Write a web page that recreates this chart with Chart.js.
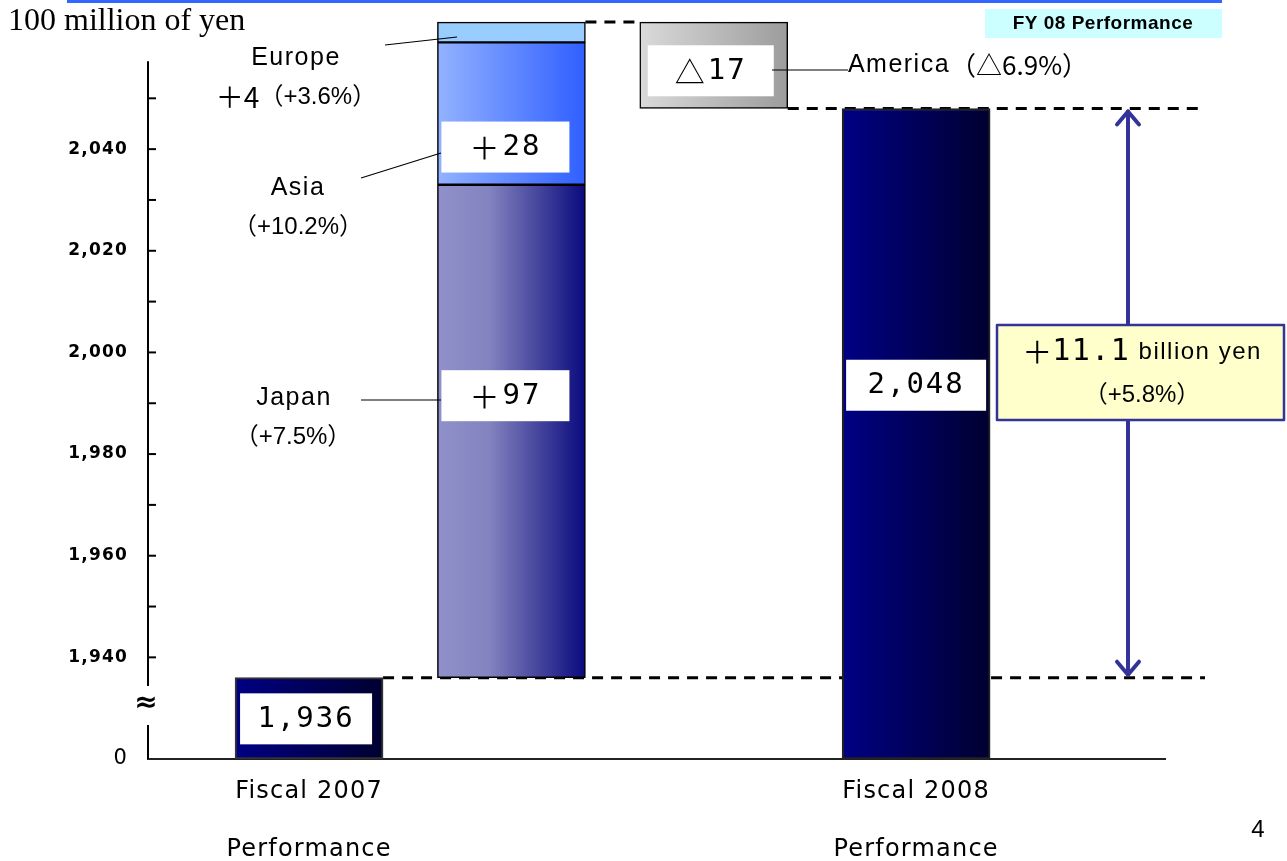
<!DOCTYPE html>
<html>
<head>
<meta charset="utf-8">
<script src="https://cdn.jsdelivr.net/npm/chart.js@4.4.1/dist/chart.umd.min.js"></script>
<style>
  html, body { margin: 0; padding: 0; background: #fff; }
  #wrap { width: 1287px; height: 861px; }
</style>
</head>
<body>
<div id="wrap"><canvas id="sales-chart" width="1287" height="861"></canvas></div>
<script>
// net sales, in 100 million of yen
const base2007 = 1936;
const result2008 = 2048;
const regions = ['Japan', 'Asia', 'Europe', 'America'];
const regionChange = [97, 28, 4, -17];
const regionPct = [7.5, 10.2, 3.6, -6.9];
const regionColumn = [1, 1, 1, 2];
const totalChangeBillion = 11.1;
const totalChangePct = 5.8;

const categoryLabels = [['Fiscal 2007', 'Performance'], null, null, ['Fiscal 2008', 'Performance']];

// the axis is broken: everything below 1,940 is squeezed, its bottom reads 0
const axisBreakValue = 1920;
const yTicks = [1940, 1950, 1960, 1970, 1980, 1990, 2000, 2010, 2020, 2030, 2040, 2050];
const yTickLabels = ['1,940', '', '1,960', '', '1,980', '', '2,000', '', '2,020', '', '2,040', ''];

const barWidth = 148;
const labelFont = '"Liberation Sans", "Noto Sans CJK JP", sans-serif';
const boxFont = '"DejaVu Sans Mono", "Noto Sans CJK JP", monospace';
const cjkFont = '"Noto Sans CJK JP", sans-serif';

// stacked steps of the waterfall
let running = base2007;
const steps = regionChange.map(v => {
    const seg = [running, running + v];
    running += v;
    return seg;
});

function signed(v) {
    return v >= 0 ? '+' + v : '△' + Math.abs(v);
}

// horizontal gradient across a bar
function barFill(stops) {
    return (ctx) => {
        const chart = ctx.chart;
        if (!chart.chartArea || ctx.type !== 'data') return stops[0][1];
        const cx = chart.scales.x.getPixelForValue(ctx.raw.x);
        const g = chart.ctx.createLinearGradient(cx - barWidth / 2, 0, cx + barWidth / 2, 0);
        stops.forEach(s => g.addColorStop(s[0], s[1]));
        return g;
    };
}

const navy = [[0, '#000084'], [1, '#000030']];
const regionFills = [
    [[0, '#9090ca'], [0.35, '#8383bf'], [1, '#0a0a7e']],
    [[0, '#93b2ff'], [1, '#2f5fff']],
    [[0, '#99ccff'], [1, '#99ccff']],
    [[0, '#dadada'], [1, '#9c9c9c']]
];

const datasets = [
    {
        label: 'Fiscal 2007',
        data: [{ x: 0, y: [axisBreakValue, base2007] }],
        backgroundColor: barFill(navy),
        borderColor: '#333',
        borderWidth: 2
    },
    ...regions.map((name, i) => ({
        label: name,
        data: [{ x: regionColumn[i], y: steps[i] }],
        backgroundColor: barFill(regionFills[i]),
        borderColor: '#000',
        borderWidth: 1.5
    })),
    {
        label: 'Fiscal 2008',
        data: [{ x: 3, y: [axisBreakValue, result2008] }],
        backgroundColor: barFill(navy),
        borderColor: '#222',
        borderWidth: 2
    }
];
datasets.forEach(d => {
    d.grouped = false;
    d.barThickness = barWidth;
    d.borderSkipped = false;
    d.clip = false;
});

// white value boxes inside the bars (dataset order)
const boxSigns = [null, ...regionChange.map(v => v >= 0 ? '＋' : '△'), null];
const boxTexts = [base2007.toLocaleString('en-US'), ...regionChange.map(v => String(Math.abs(v))), result2008.toLocaleString('en-US')];
const boxShift = [0, -36, 33, null, 5, -49];
const boxLeft = [5, 4, 4, 0, 8, 4];
const boxWidth = [132, 128, 128, 0, 126, 140];

function textAt(ctx, text, x, y, font, align, spacing) {
    ctx.font = font;
    ctx.letterSpacing = (spacing || 0) + 'px';
    ctx.textAlign = align || 'center';
    ctx.textBaseline = 'middle';
    ctx.fillText(text, x, y);
    ctx.letterSpacing = '0px';
}

function widthOf(ctx, text, font, spacing) {
    ctx.font = font;
    ctx.letterSpacing = (spacing || 0) + 'px';
    const w = ctx.measureText(text).width;
    ctx.letterSpacing = '0px';
    return w;
}

// draws a row of [text, font, spacing] parts centred on x
function partsAt(ctx, parts, x, y) {
    const widths = parts.map(p => widthOf(ctx, p[0], p[1], p[2]));
    let left = x - widths.reduce((a, b) => a + b, 0) / 2;
    parts.forEach((p, i) => {
        textAt(ctx, p[0], left, y, p[1], 'left', p[2]);
        left += widths[i];
    });
}

function line(ctx, x1, y1, x2, y2) {
    ctx.beginPath();
    ctx.moveTo(x1, y1);
    ctx.lineTo(x2, y2);
    ctx.stroke();
}

const slideDecor = {
    id: 'slideDecor',
    beforeDraw(chart) {
        // wider tracking for the axis labels, like the slide font
        chart.ctx.letterSpacing = '1.2px';
    },
    beforeDatasetsDraw(chart) {
        const { ctx, chartArea, scales: { y } } = chart;
        ctx.letterSpacing = '0px';
        const bar = i => chart.getDatasetMeta(i).data[0];
        const right = chartArea.right + 40;
        ctx.save();
        // dashed connectors
        ctx.strokeStyle = '#000';
        ctx.lineWidth = 3;
        ctx.setLineDash([11, 8]);
        line(ctx, bar(0).x + barWidth / 2, y.getPixelForValue(base2007), right, y.getPixelForValue(base2007));
        line(ctx, bar(3).x + barWidth / 2, y.getPixelForValue(steps[2][1]), bar(4).x - barWidth / 2, y.getPixelForValue(steps[2][1]));
        line(ctx, bar(4).x + barWidth / 2, y.getPixelForValue(result2008), right, y.getPixelForValue(result2008));
        ctx.setLineDash([]);

        // y axis with a break near the bottom
        const x0 = chartArea.left;
        const bottom = y.getPixelForValue(axisBreakValue);
        ctx.lineWidth = 2;
        ctx.strokeStyle = '#000';
        line(ctx, x0, y.getPixelForValue(yTicks[yTicks.length - 1]) - 37, x0, bottom - 73);
        line(ctx, x0, bottom - 34, x0, bottom);
        yTicks.forEach(v => line(ctx, x0, y.getPixelForValue(v), x0 + 8, y.getPixelForValue(v)));
        ctx.fillStyle = '#000';
        textAt(ctx, '≈', x0 - 2, bottom - 55, 'bold 28px "DejaVu Sans"');
        ctx.restore();
    },
    afterDatasetsDraw(chart) {
        const { ctx, scales: { y } } = chart;
        const bar = i => chart.getDatasetMeta(i).data[0];
        ctx.save();

        // value boxes
        boxTexts.forEach((t, i) => {
            if (boxShift[i] === null) return;
            const el = bar(i);
            const cy = (el.y + el.base) / 2 + boxShift[i];
            const left = el.x - barWidth / 2 + boxLeft[i];
            ctx.fillStyle = '#fff';
            ctx.fillRect(left, cy - 25, boxWidth[i], 51);
            ctx.fillStyle = '#000';
            const parts = [];
            if (boxSigns[i]) parts.push([boxSigns[i], '30px ' + cjkFont, 3]);
            parts.push([t, '29px ' + boxFont, 2]);
            partsAt(ctx, parts, left + boxWidth[i] / 2, cy + 1);
        });

        // region callouts
        ctx.strokeStyle = '#000';
        ctx.lineWidth = 1.2;
        ctx.fillStyle = '#000';
        const main = '25px ' + labelFont;
        const sub = '24px ' + labelFont;
        const pct = i => '（' + signed(regionPct[i]) + '%）';
        textAt(ctx, regions[0], 294, 398, main, 'center', 1.5);
        textAt(ctx, pct(0), 293, 437, sub);
        line(ctx, 361, 400, 441, 400);
        textAt(ctx, regions[1], 298, 188, main, 'center', 1.5);
        textAt(ctx, pct(1), 298, 227, sub);
        line(ctx, 361, 178, 441, 153);
        textAt(ctx, regions[2], 296, 58, main, 'center', 1.5);
        partsAt(ctx, [['＋' + regionChange[2], '28px ' + cjkFont, 0], [pct(2), sub, 0]], 296, 97);
        line(ctx, 385, 45, 457, 37);
        partsAt(ctx, [[regions[3], main, 1.5], [pct(3), '26px ' + cjkFont, 0]], 968, 65);
        line(ctx, 772, 70, 848, 70);

        // double arrow for the total change
        const ax = 1128;
        const yTop = y.getPixelForValue(result2008) + 3;
        const yBot = y.getPixelForValue(base2007) - 3;
        ctx.strokeStyle = '#333399';
        ctx.lineWidth = 4;
        ctx.lineCap = 'round';
        ctx.lineJoin = 'round';
        line(ctx, ax, yTop, ax, yBot);
        ctx.beginPath();
        ctx.moveTo(ax - 11, yTop + 13); ctx.lineTo(ax, yTop); ctx.lineTo(ax + 11, yTop + 13);
        ctx.moveTo(ax - 11, yBot - 13); ctx.lineTo(ax, yBot); ctx.lineTo(ax + 11, yBot - 13);
        ctx.stroke();

        // total box
        ctx.fillStyle = '#ffffcc';
        ctx.fillRect(997, 325, 287, 95);
        ctx.lineWidth = 2.5;
        ctx.lineCap = 'butt';
        ctx.strokeRect(997, 325, 287, 95);
        ctx.fillStyle = '#000';
        partsAt(ctx, [
            ['＋', '30px ' + cjkFont, 0],
            [String(totalChangeBillion), '30px ' + boxFont, 1.5],
            [' billion yen', '24px ' + labelFont, 1.5]
        ], 1142, 352);
        textAt(ctx, '（+' + totalChangePct + '%）', 1142, 395, sub);

        // slide header and page number
        ctx.fillStyle = '#3366ff';
        ctx.fillRect(67, 0, 1155, 3);
        ctx.fillStyle = '#ccffff';
        ctx.fillRect(985, 9, 237, 29);
        ctx.fillStyle = '#000';
        textAt(ctx, 'FY 08 Performance', 1103, 24, 'bold 19px "Liberation Sans"', 'center', 0.5);
        textAt(ctx, '100 million of yen', 8, 22, '32px "Liberation Serif"', 'left');
        textAt(ctx, '4', 1258, 830, '24px ' + labelFont);
        ctx.restore();
    }
};

const chart = new Chart(document.getElementById('sales-chart'), {
    type: 'bar',
    data: { datasets: datasets },
    options: {
        responsive: false,
        animation: false,
        layout: { padding: { top: 17, right: 122, bottom: 0, left: 0 } },
        plugins: {
            legend: { display: false },
            tooltip: { enabled: false }
        },
        scales: {
            x: {
                type: 'linear',
                offset: false,
                min: -0.796,
                max: 4.23,
                grid: { display: false, drawTicks: false },
                border: { display: true, color: '#222', width: 2 },
                afterBuildTicks: scale => {
                    scale.ticks = categoryLabels
                        .map((l, i) => ({ value: i }))
                        .filter(t => categoryLabels[t.value]);
                },
                afterFit: scale => {
                    scale.height = 102;
                    scale.paddingLeft = 0;
                    scale.paddingRight = 0;
                },
                ticks: {
                    autoSkip: false,
                    maxRotation: 0,
                    padding: 4,
                    color: '#000',
                    font: { family: '"DejaVu Sans"', size: 24, lineHeight: 2.4 },
                    callback: value => categoryLabels[value]
                }
            },
            y: {
                type: 'linear',
                min: axisBreakValue,
                max: 2066,
                grid: { display: false, drawTicks: false },
                border: { display: false },
                afterBuildTicks: scale => {
                    scale.ticks = [axisBreakValue, ...yTicks].map(v => ({ value: v }));
                },
                afterFit: scale => {
                    scale.width = 148;
                    scale.paddingTop = 0;
                    scale.paddingBottom = 0;
                },
                ticks: {
                    padding: 20,
                    color: '#000',
                    font: (c) => c.tick && c.tick.value === axisBreakValue
                        ? { family: '"DejaVu Sans"', size: 21 }
                        : { family: '"DejaVu Sans"', size: 17, weight: 'bold' },
                    callback: (value) => {
                        if (value === axisBreakValue) return '0';
                        const i = yTicks.indexOf(value);
                        return yTickLabels[i] ? yTickLabels[i] : null;
                    }
                }
            }
        }
    },
    plugins: [slideDecor]
});
</script>
</body>
</html>
